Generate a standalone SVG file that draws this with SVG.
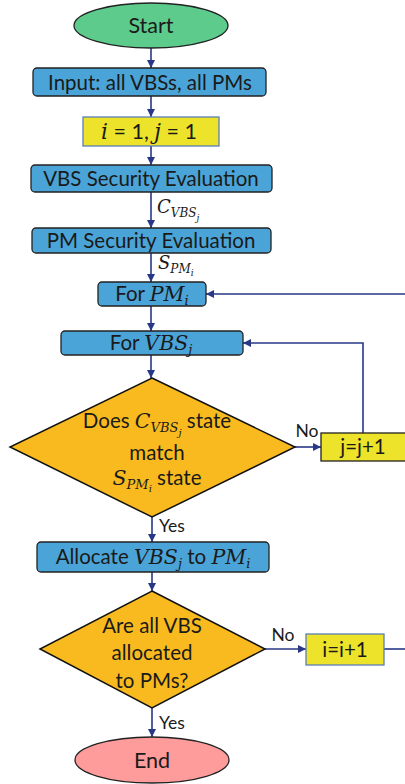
<svg xmlns="http://www.w3.org/2000/svg" width="405" height="784" viewBox="0 0 405 784">
<defs>
<marker id="ah" viewBox="0 0 10 10" refX="10" refY="5" markerWidth="8" markerHeight="8" markerUnits="userSpaceOnUse" orient="auto">
<path d="M0,0 L10,5 L0,10 z" fill="#283786"/>
</marker>
<style>
.t{font-family:Lato,"Open Sans","Liberation Sans",sans-serif;fill:#1a1a1a;text-anchor:middle}
.m{font-family:"DejaVu Serif","Liberation Serif",serif;font-style:italic}
.box{fill:#4ba4d7;stroke:#222;stroke-width:1.3}
.yel{fill:#ece32a;stroke:#5b7fb5;stroke-width:1.3}
.yel2{fill:#ece32a;stroke:#222;stroke-width:1.3}
.dia{fill:#f8ba1f;stroke:#111;stroke-width:1.5}
.c{fill:none;stroke:#283786;stroke-width:1.6}
.ca{fill:none;stroke:#283786;stroke-width:1.6;marker-end:url(#ah)}
</style>
</defs>
<rect width="405" height="784" fill="#fff"/>
<g id="connectors">
<line class="ca" x1="151" y1="48" x2="151" y2="68"/>
<line class="ca" x1="151" y1="96" x2="151" y2="117"/>
<line class="ca" x1="151" y1="146" x2="151" y2="165"/>
<line class="ca" x1="151" y1="192" x2="151" y2="228"/>
<line class="ca" x1="151" y1="253" x2="151" y2="282"/>
<line class="ca" x1="151" y1="306" x2="151" y2="331"/>
<line class="ca" x1="151" y1="355" x2="151" y2="378"/>
<line class="ca" x1="295" y1="447" x2="321" y2="447"/>
<polyline class="ca" points="363,433 363,343 243,343"/>
<line class="ca" x1="152" y1="517" x2="152" y2="542"/>
<line class="ca" x1="152" y1="572" x2="152" y2="591"/>
<line class="ca" x1="265" y1="649" x2="306" y2="649"/>
<line class="c" x1="384" y1="649" x2="405" y2="649"/>
<line class="ca" x1="405" y1="294" x2="206" y2="294"/>
<line class="ca" x1="152" y1="708" x2="152" y2="737"/>
</g>
<g id="labels">
<text class="m" x="157" y="213" font-size="18" fill="#1a1a1a">C<tspan font-size="12" dy="4">VBS</tspan><tspan font-size="9" dy="4">j</tspan></text>
<text class="m" x="158" y="269" font-size="18" fill="#1a1a1a">S<tspan font-size="12" dy="4">PM</tspan><tspan font-size="9" dy="3">i</tspan></text>
<text class="t" x="307" y="437" font-size="17.5">No</text>
<text class="t" x="172" y="532" font-size="17.5">Yes</text>
<text class="t" x="283" y="641" font-size="17.5">No</text>
<text class="t" x="172" y="729" font-size="17.5">Yes</text>
</g>
<g id="start">
<ellipse cx="151" cy="25.5" rx="77" ry="22.5" fill="#5ccb8c" stroke="#222" stroke-width="1.3"/>
<text class="t" x="151" y="33" font-size="21.5">Start</text>
</g>
<g id="input">
<rect class="box" x="33" y="68" width="233" height="28" rx="4"/>
<text class="t" x="150" y="89.5" font-size="20.5">Input: all VBSs, all PMs</text>
</g>
<g id="init">
<rect class="yel" x="83" y="117" width="136" height="29"/>
<text class="t" x="149" y="139" font-size="21.5"><tspan class="m">i</tspan> = 1, <tspan class="m">j</tspan> = 1</text>
</g>
<g id="vbs-eval">
<rect class="box" x="31" y="165" width="241" height="27" rx="4"/>
<text class="t" x="151" y="186" font-size="20.5">VBS Security Evaluation</text>
</g>
<g id="pm-eval">
<rect class="box" x="32" y="228" width="239" height="25" rx="4"/>
<text class="t" x="151" y="248" font-size="20.5">PM Security Evaluation</text>
</g>
<g id="for-pm">
<rect class="box" x="98" y="282" width="108" height="24" rx="4"/>
<text class="t" x="152" y="301" font-size="20.5">For <tspan class="m">PM</tspan><tspan class="m" font-size="13" dy="4">i</tspan></text>
</g>
<g id="for-vbs">
<rect class="box" x="61" y="331" width="182" height="24" rx="4"/>
<text class="t" x="151" y="350" font-size="20.5">For <tspan class="m">VBS</tspan><tspan class="m" font-size="13" dy="4">j</tspan></text>
</g>
<g id="match">
<polygon class="dia" points="152,378 295,447 152,517 10,447"/>
<text class="t" x="157" y="428" font-size="20.5">Does <tspan class="m">C</tspan><tspan class="m" font-size="13" dy="4">VBS</tspan><tspan class="m" font-size="10" dy="4">j</tspan><tspan dy="-8"> state</tspan></text>
<text class="t" x="157" y="460" font-size="20.5">match</text>
<text class="t" x="157" y="485" font-size="20.5"><tspan class="m">S</tspan><tspan class="m" font-size="13" dy="4">PM</tspan><tspan class="m" font-size="10" dy="3">i</tspan><tspan dy="-7"> state</tspan></text>
</g>
<g id="j-inc">
<rect class="yel2" x="321" y="433" width="95" height="28"/>
<text class="t" x="363" y="454" font-size="20.5">j=j+1</text>
</g>
<g id="allocate">
<rect class="box" x="37" y="542" width="232" height="30" rx="4"/>
<text class="t" x="153" y="563.5" font-size="20.5">Allocate <tspan class="m">VBS</tspan><tspan class="m" font-size="13" dy="4">j</tspan><tspan dy="-4"> to </tspan><tspan class="m">PM</tspan><tspan class="m" font-size="13" dy="4">i</tspan></text>
</g>
<g id="all-allocated">
<polygon class="dia" points="152,591 265,649 152,708 40,649"/>
<text class="t" x="152" y="633" font-size="20.5">Are all VBS</text>
<text class="t" x="152" y="660" font-size="20.5">allocated</text>
<text class="t" x="152" y="688" font-size="20.5">to PMs?</text>
</g>
<g id="i-inc">
<rect class="yel" x="306" y="634" width="78" height="31"/>
<text class="t" x="345" y="657" font-size="20.5">i=i+1</text>
</g>
<g id="end">
<ellipse cx="152" cy="760" rx="77" ry="23" fill="#fe9b9b" stroke="#222" stroke-width="1.3"/>
<text class="t" x="152" y="767.5" font-size="21.5">End</text>
</g>
</svg>
